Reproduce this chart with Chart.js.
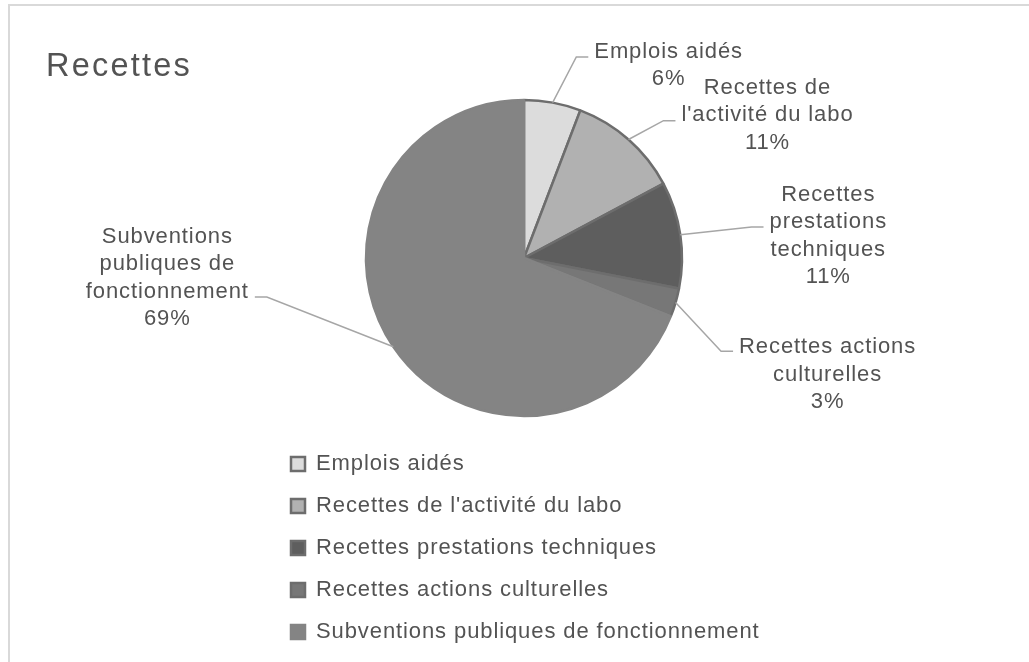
<!DOCTYPE html>
<html>
<head>
<meta charset="utf-8">
<script src="https://cdn.jsdelivr.net/npm/chart.js@4.4.1/dist/chart.umd.min.js"></script>
<style>
  html, body { margin: 0; padding: 0; background: #fff; overflow: hidden; }
  #frame { position: absolute; left: 8px; top: 4px; width: 1100px; height: 800px;
           border-left: 2px solid #d9d9d9; border-top: 2px solid #d9d9d9; }
  #chart { position: absolute; left: 0; top: 0; }
</style>
</head>
<body>
<div id="frame"></div>
<canvas id="chart" width="1029" height="662"></canvas>
<script>
// Données du graphique "Recettes"
const categories = [
    'Emplois aidés',
    "Recettes de l'activité du labo",
    'Recettes prestations techniques',
    'Recettes actions culturelles',
    'Subventions publiques de fonctionnement'
];
const shares = [5.8, 11.4, 10.9, 2.9, 69.0];
const labelLines = [
    ['Emplois aidés'],
    ['Recettes de', "l'activité du labo"],
    ['Recettes', 'prestations', 'techniques'],
    ['Recettes actions', 'culturelles'],
    ['Subventions', 'publiques de', 'fonctionnement']
];
const chartTitle = 'Recettes';

const fills = ['#dcdcdc', '#b1b1b1', '#5e5e5e', '#777777', '#848484'];
const borders = ['#6d6d6d', '#6d6d6d', '#6d6d6d', '#6d6d6d', '#848484'];

// placement des étiquettes (décalage depuis le bord de la part)
const labelOffsets = [[116, -39], [139, -26], [148, -1], [152, 70], [-226, -71]];
const attachDy = [-6.6, 7.2, -6.7, -21.3, 21.3];

const FONT = '"Liberation Sans", Arial, sans-serif';
const TEXT = '#535353';

const spacingPlugin = {
    id: 'spacing',
    beforeLayout: (chart) => { chart.ctx.letterSpacing = '0.9px'; },
    beforeDraw: (chart) => { chart.ctx.letterSpacing = '0.9px'; }
};

const titlePlugin = {
    id: 'cornerTitle',
    afterDraw: (chart) => {
        const ctx = chart.ctx;
        ctx.save();
        ctx.letterSpacing = '2.2px';
        ctx.font = '32.5px ' + FONT;
        ctx.fillStyle = TEXT;
        ctx.textAlign = 'left';
        ctx.textBaseline = 'alphabetic';
        ctx.fillText(chartTitle, 46, 76);
        ctx.restore();
    }
};

const labelPlugin = {
    id: 'pieLabels',
    afterDatasetsDraw: (chart) => {
        const ctx = chart.ctx;
        const meta = chart.getDatasetMeta(0);
        const total = shares.reduce((a, b) => a + b, 0);
        ctx.save();
        ctx.letterSpacing = '0.9px';
        ctx.font = '22px ' + FONT;
        meta.data.forEach((arc, i) => {
            const {x, y, startAngle, endAngle, outerRadius} = arc.getProps(['x', 'y', 'startAngle', 'endAngle', 'outerRadius'], true);
            const mid = (startAngle + endAngle) / 2;
            const ex = x + Math.cos(mid) * outerRadius;
            const ey = y + Math.sin(mid) * outerRadius;
            const lines = labelLines[i].concat([Math.round(shares[i] / total * 100) + '%']);
            const cx = ex + labelOffsets[i][0];
            const cy = ey + labelOffsets[i][1];
            const lh = 27.5;
            const maxW = Math.max(...lines.map(l => ctx.measureText(l).width));
            const right = cx > ex;
            const endX = right ? cx - maxW / 2 - 6 : cx + maxW / 2 + 6;
            const elbowX = right ? endX - 12 : endX + 12;
            const ay = cy + attachDy[i];

            ctx.strokeStyle = '#a6a6a6';
            ctx.lineWidth = 1.5;
            ctx.beginPath();
            ctx.moveTo(ex, ey);
            ctx.lineTo(elbowX, ay);
            ctx.lineTo(endX, ay);
            ctx.stroke();

            ctx.fillStyle = TEXT;
            ctx.textAlign = 'center';
            ctx.textBaseline = 'alphabetic';
            const top = cy - (lines.length - 1) * lh / 2;
            lines.forEach((l, k) => ctx.fillText(l, cx, top + k * lh + 8));
        });
        ctx.restore();
    }
};

const ctx = document.getElementById('chart').getContext('2d');
new Chart(ctx, {
    type: 'pie',
    data: {
        labels: categories,
        datasets: [{
            data: shares,
            backgroundColor: fills,
            borderColor: borders,
            borderWidth: 2.5,
            radius: 158
        }]
    },
    options: {
        responsive: false,
        animation: false,
        devicePixelRatio: 1,
        layout: { padding: { left: 271, right: 252, top: 83, bottom: 9 } },
        plugins: {
            title: { display: false },
            tooltip: { enabled: false },
            legend: {
                position: 'bottom',
                align: 'start',
                labels: {
                    boxWidth: 14,
                    boxHeight: 14,
                    padding: 20,
                    color: TEXT,
                    font: { family: FONT, size: 22 }
                }
            }
        }
    },
    plugins: [spacingPlugin, labelPlugin, titlePlugin]
});
</script>
</body>
</html>
